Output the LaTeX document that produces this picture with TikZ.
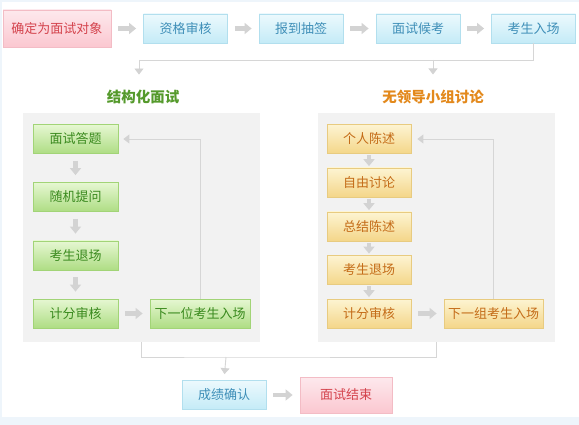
\documentclass[tikz,border=0pt]{standalone}
\usepackage{fontspec}
\setmainfont{Noto Sans CJK SC}
\usetikzlibrary{positioning, arrows.meta, calc}
\definecolor{pinkT}{HTML}{FDE9ED}\definecolor{pinkB}{HTML}{FBC7D0}\definecolor{pinkD}{HTML}{F3BCC5}\definecolor{pinkX}{HTML}{D4434D}
\definecolor{blueT}{HTML}{ECF9FD}\definecolor{blueB}{HTML}{C4EBF7}\definecolor{blueD}{HTML}{B2DFEE}\definecolor{blueX}{HTML}{3F8FB8}
\definecolor{grnT}{HTML}{E6F7D2}\definecolor{grnB}{HTML}{AEDD84}\definecolor{grnD}{HTML}{A2D477}\definecolor{grnX}{HTML}{3A8A1E}
\definecolor{orgT}{HTML}{FDF4D2}\definecolor{orgB}{HTML}{F4D689}\definecolor{orgD}{HTML}{E8CB80}\definecolor{orgX}{HTML}{C46C18}
\definecolor{grnH}{HTML}{559A2C}\definecolor{orgH}{HTML}{E3891C}
\definecolor{panelC}{HTML}{F2F2F2}\definecolor{arrowC}{HTML}{D3D3D3}\definecolor{lineC}{HTML}{D6D6D6}\definecolor{edgeC}{HTML}{EEF5FB}

\begin{document}
\begin{tikzpicture}[x=1pt, y=-1pt, font=\fontsize{13}{15}\selectfont,
  box/.style={draw, line width=0.8pt, minimum width=84pt, minimum height=29pt, inner sep=1pt},
  pinkbox/.style={box, top color=pinkT, bottom color=pinkB, draw=pinkD, text=pinkX},
  bluebox/.style={box, top color=blueT, bottom color=blueB, draw=blueD, text=blueX},
  grnbox/.style={box, top color=grnT, bottom color=grnB, draw=grnD, text=grnX},
  orgbox/.style={box, top color=orgT, bottom color=orgB, draw=orgD, text=orgX},
  panel/.style={fill=panelC, minimum width=237pt, minimum height=229pt, inner sep=0pt},
  title/.style={font=\fontsize{14.5}{16}\selectfont\bfseries},
  flow/.style={line width=4.5pt, draw=arrowC, -{Triangle[length=7pt, width=11pt]}, shorten <=7pt, shorten >=7pt},
  link/.style={line width=0.9pt, draw=lineC},
  linkto/.style={link, -{Triangle[length=6pt, width=9pt, color=arrowC]}}]
\useasboundingbox (0,0) rectangle (579,425);
\fill[edgeC] (0,0) rectangle (579,425);
\fill[white] (2,2) rectangle (579,417);
% top row
\node[pinkbox, minimum width=108pt, minimum height=37pt] (T1) at (57, 28.5) {确定为面试对象};
\node[bluebox] (T2) at (185.5, 28.5) {资格审核};
\node[bluebox] (T3) at (301, 28.5) {报到抽签};
\node[bluebox] (T4) at (418, 28.5) {面试候考};
\node[bluebox] (T5) at (533.5, 28.5) {考生入场};
\draw[flow] (T1) -- (T2); \draw[flow] (T2) -- (T3); \draw[flow] (T3) -- (T4); \draw[flow] (T4) -- (T5);
% two kinds of interview
\node[title, text=grnH] (HL) at (143, 97) {结构化面试};
\node[title, text=orgH] (HR) at (433, 97) {无领导小组讨论};
\coordinate (forkL) at (139, 60);
\draw[link] (T5.south) |- (forkL);
\draw[linkto, shorten >=12pt] (forkL) -- (forkL |- HL.north);
\draw[linkto, shorten >=12pt] (HR.north |- forkL) -- (HR.north);
\node[panel] (PL) at (141.5, 227.5) {};
\node[panel] (PR) at (436.5, 227.5) {};
% structured interview
\node[grnbox, minimum width=85pt] (L1) at (75.5, 139) {面试答题};
\node[grnbox, minimum width=85pt] (L2) at (75.5, 197) {随机提问};
\node[grnbox, minimum width=85pt] (L3) at (75.5, 255.5) {考生退场};
\node[grnbox, minimum width=85pt] (L4) at (75.5, 313.5) {计分审核};
\node[grnbox, minimum width=100pt] (LN) at (200, 313.5) {下一位考生入场};
\draw[flow] (L1) -- (L2); \draw[flow] (L2) -- (L3); \draw[flow] (L3) -- (L4); \draw[flow] (L4) -- (LN);
\draw[linkto, shorten >=5pt] (LN.north) |- (L1.east);
% leaderless group discussion
\node[orgbox] (R1) at (369, 139) {个人陈述};
\node[orgbox] (R2) at (369, 182.5) {自由讨论};
\node[orgbox] (R3) at (369, 226.5) {总结陈述};
\node[orgbox] (R4) at (369, 270) {考生退场};
\node[orgbox] (R5) at (369, 313.5) {计分审核};
\node[orgbox, minimum width=99pt] (RN) at (493.5, 313.5) {下一组考生入场};
\foreach \a/\b in {R1/R2, R2/R3, R3/R4, R4/R5} \draw[flow, shorten <=1.5pt, shorten >=1.5pt] (\a) -- (\b);
\draw[flow] (R5) -- (RN);
\draw[linkto, shorten >=6pt] (RN.north) |- (R1.east);
% results
\coordinate (joinB) at (226, 357);
\draw[link] (PL.south) |- (joinB) -| (PR.south);
\node[bluebox] (B1) at (224, 395) {成绩确认};
\node[pinkbox, minimum width=92pt, minimum height=36pt] (B2) at (346, 395) {面试结束};
\draw[linkto, shorten >=6pt] (joinB) -- (B1.north);
\draw[flow] (B1) -- (B2);
\end{tikzpicture}
\end{document}
